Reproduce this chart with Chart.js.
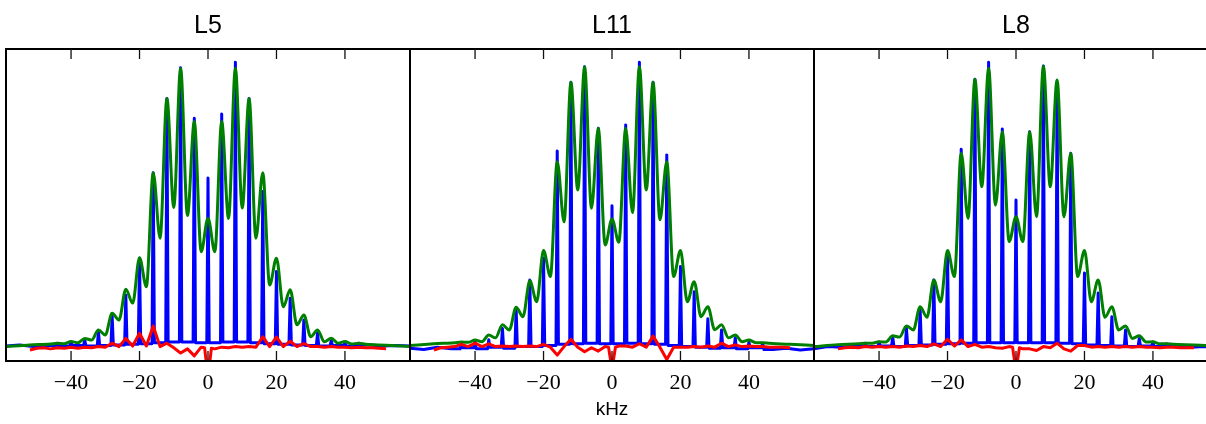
<!DOCTYPE html>
<html><head><meta charset="utf-8">
<script src="https://cdn.jsdelivr.net/npm/chart.js@4/dist/chart.umd.min.js"></script>
<style>
html,body{margin:0;padding:0;width:1206px;height:424px;overflow:hidden;background:#fff;position:relative}
canvas{position:absolute;top:0}
</style></head><body>
<canvas id="c0" width="416" height="424" style="left:0px"></canvas>
<canvas id="c1" width="416" height="424" style="left:404px"></canvas>
<canvas id="c2" width="416" height="424" style="left:808px"></canvas>
<script>
// ---------- data ----------
const panelTitles = ['L5', 'L11', 'L8'];
const xTickValues = [-40, -20, 0, 20, 40];
const axisLabel = 'kHz';

// spinning-sideband positions (kHz)
const peakX = [-44,-40,-36,-32,-28,-24,-20,-16,-12,-8,-4,0,4,8,12,16,20,24,28,32,36,40,44];
// blue baseline points between the sidebands (kHz)
const blueGapX = [-59,-55,-51,-47,-42,-38,-34,-30,-26,-22,-18,-14,-10,-6,-2,2,6,10,14,18,22,26,30,34,38,42,47,51,55,59];
// fit curve sample positions (kHz)
const greenX = [-59,-52,-46,-44,-42,-40,-38,-36,-34,-32,-30,-28,-26,-24,-22,-20,-18,-16,-14,-12,-10,-8,-6,-4,-2,0,2,4,6,8,10,12,14,16,18,20,22,24,26,28,30,32,34,36,38,40,42,44,46,52,59];
// residual sample positions (kHz)
const redX = [-52,-50,-48,-46,-44,-42,-40,-38,-36,-34,-32,-30,-28,-26,-24,-22,-20,-18,-16,-14,-12,-10,-8,-6,-4,-2,-1,0,1,2,4,6,8,10,12,14,16,18,20,22,24,26,28,30,32,34,36,38,40,42,44,46,48,50,52];

// L5
const L5_bluePeaks = [0.008,0.012,0.02,0.049,0.105,0.179,0.309,0.612,0.875,0.984,0.805,0.593,0.82,1.003,0.875,0.545,0.262,0.167,0.09,0.044,0.018,0.01,0.008];
const L5_blueGaps = [-0.002,0.002,-0.004,0.0,-0.002,0.0,-0.002,0.0,0.002,0.004,0.006,0.01,0.012,0.012,0.01,0.01,0.012,0.012,0.01,0.006,0.004,0.002,0.0,-0.002,0.0,-0.002,0.002,-0.002,0.0,-0.002];
const L5_fit = [-0.004,0.002,0.005,0.008,0.006,0.014,0.01,0.025,0.019,0.055,0.037,0.114,0.09,0.199,0.15,0.311,0.208,0.612,0.38,0.875,0.489,0.982,0.46,0.793,0.332,0.451,0.332,0.793,0.45,0.982,0.487,0.875,0.38,0.612,0.214,0.309,0.137,0.197,0.073,0.108,0.031,0.055,0.013,0.026,0.008,0.014,0.005,0.008,0.004,0.001,-0.004];
const L5_resid = [-0.016,-0.01,-0.008,-0.012,-0.008,-0.01,-0.006,-0.01,-0.006,-0.008,-0.004,-0.006,0.008,-0.004,0.025,-0.002,0.043,-0.002,0.069,-0.004,0.008,-0.008,-0.027,-0.012,-0.037,-0.006,
  -0.008,-0.11,-0.01,
  -0.012,-0.006,-0.008,-0.004,-0.006,-0.004,-0.006,0.031,-0.004,0.03,-0.004,0.015,-0.004,0.007,-0.004,-0.004,-0.006,-0.004,-0.006,-0.006,-0.008,-0.006,-0.008,-0.008,-0.01,-0.012];

// L11
const L11_bluePeaks = [0.01,0.015,0.02,0.06,0.13,0.232,0.31,0.689,0.932,0.987,0.769,0.495,0.781,1.003,0.932,0.675,0.28,0.19,0.095,0.055,0.027,0.012,0.008];
const L11_blueGaps = [-0.01,-0.014,-0.006,-0.012,-0.008,-0.012,-0.006,-0.01,-0.004,-0.004,0.0,0.004,0.006,0.008,0.006,0.006,0.008,0.006,0.004,0.0,-0.004,-0.006,-0.01,-0.008,-0.012,-0.008,-0.014,-0.01,-0.016,-0.012];
const L11_fit = [0.0,0.006,0.01,0.012,0.011,0.019,0.013,0.037,0.027,0.073,0.055,0.135,0.102,0.229,0.155,0.336,0.244,0.651,0.438,0.932,0.551,0.987,0.486,0.769,0.356,0.448,0.366,0.769,0.47,0.987,0.551,0.932,0.445,0.651,0.244,0.336,0.155,0.226,0.102,0.137,0.056,0.073,0.027,0.037,0.013,0.019,0.01,0.01,0.008,0.004,0.0];
const L11_resid = [-0.016,-0.008,-0.006,-0.004,0.004,-0.004,0.008,-0.004,0.006,-0.004,-0.002,-0.004,-0.002,-0.004,-0.002,-0.004,0.004,-0.006,-0.034,-0.004,0.022,-0.006,-0.022,-0.008,-0.02,-0.004,
  -0.006,-0.085,-0.006,
  -0.002,-0.002,-0.006,0.006,-0.006,0.033,-0.006,-0.05,-0.006,-0.006,-0.006,-0.004,-0.006,-0.002,-0.006,0.008,-0.004,0.002,-0.004,-0.002,-0.004,-0.004,-0.006,-0.006,-0.006,-0.008];

// L8
const L8_bluePeaks = [0.008,0.012,0.03,0.06,0.13,0.232,0.33,0.695,0.943,1.003,0.767,0.515,0.757,0.99,0.928,0.681,0.257,0.186,0.102,0.055,0.025,0.012,0.006];
const L8_blueGaps = [-0.012,-0.004,-0.006,-0.002,-0.004,-0.002,-0.004,0.0,0.002,0.004,0.006,0.008,0.01,0.01,0.01,0.01,0.01,0.01,0.008,0.006,0.002,0.0,-0.002,-0.004,-0.002,-0.004,-0.002,-0.006,-0.004,-0.006];
const L8_fit = [-0.004,0.003,0.006,0.008,0.008,0.013,0.012,0.034,0.03,0.069,0.055,0.137,0.1,0.232,0.155,0.336,0.244,0.681,0.45,0.943,0.562,0.982,0.497,0.757,0.368,0.456,0.368,0.757,0.456,0.99,0.562,0.94,0.456,0.681,0.244,0.336,0.155,0.232,0.1,0.137,0.055,0.069,0.025,0.034,0.012,0.013,0.006,0.006,0.004,0.002,-0.002];
const L8_resid = [-0.012,-0.008,-0.006,-0.008,-0.004,-0.006,-0.004,-0.006,-0.004,-0.006,-0.002,-0.004,0.0,-0.004,0.006,-0.004,0.022,-0.002,0.02,-0.004,0.004,-0.006,-0.004,-0.008,-0.01,-0.004,
  -0.006,-0.09,-0.008,
  -0.012,-0.012,-0.018,-0.004,-0.008,0.008,-0.012,-0.02,0.0,0.0,-0.006,-0.004,-0.006,-0.004,-0.006,-0.004,-0.006,-0.004,-0.006,-0.006,-0.008,-0.006,-0.006,-0.008,-0.008,-0.008];

const panels = [
  {peaks: L5_bluePeaks,  gaps: L5_blueGaps,  fit: L5_fit,  resid: L5_resid},
  {peaks: L11_bluePeaks, gaps: L11_blueGaps, fit: L11_fit, resid: L11_resid},
  {peaks: L8_bluePeaks,  gaps: L8_blueGaps,  fit: L8_fit,  resid: L8_resid}
];

// ---------- building the datasets ----------
function buildBlue(peaks, gaps) {
  const pts = blueGapX.map((x, k) => ({x, y: gaps[k]}));
  peakX.forEach((p, k) => {
    let li = 0, ri = blueGapX.length - 1;
    blueGapX.forEach((g, j) => { if (g < p) li = j; });
    for (let j = blueGapX.length - 1; j >= 0; j--) if (blueGapX[j] > p) ri = j;
    pts.push({x: p - 0.35, y: gaps[li]}, {x: p, y: peaks[k]}, {x: p + 0.35, y: gaps[ri]});
  });
  pts.sort((a, b) => a.x - b.x);
  return pts;
}
const zip = (xs, ys) => xs.map((x, k) => ({x, y: ys[k]}));
const fmtTick = v => (v < 0 ? '\u2212' + Math.abs(v) : String(v));

const framePlugin = {
  id: 'frame',
  afterDraw(chart) {
    const {ctx, chartArea: a, scales: {x}} = chart;
    ctx.save();
    ctx.strokeStyle = '#000';
    ctx.lineWidth = 2;
    ctx.strokeRect(a.left, a.top, a.right - a.left, a.bottom - a.top);
    ctx.lineWidth = 1.3;
    ctx.strokeStyle = '#111';
    xTickValues.forEach(v => {
      const px = x.getPixelForValue(v);
      ctx.beginPath();
      ctx.moveTo(px, a.top); ctx.lineTo(px, a.top + 10);
      ctx.moveTo(px, a.bottom); ctx.lineTo(px, a.bottom - 10);
      ctx.stroke();
    });
    ctx.restore();
  }
};

panels.forEach((p, i) => {
  new Chart(document.getElementById('c' + i), {
    type: 'line',
    data: {
      datasets: [
        {label: 'spectrum', data: buildBlue(p.peaks, p.gaps), borderColor: '#0000ff', borderWidth: 3,
         pointRadius: 0, tension: 0, borderJoinStyle: 'round', borderCapStyle: 'round', order: 3, clip: 0},
        {label: 'fit', data: zip(greenX, p.fit), borderColor: '#008000', borderWidth: 3,
         pointRadius: 0, cubicInterpolationMode: 'monotone', borderJoinStyle: 'round', order: 2, clip: 0},
        {label: 'residual', data: zip(redX, p.resid), borderColor: '#ff0000', borderWidth: 3,
         pointRadius: 0, tension: 0, borderJoinStyle: 'round', order: 1, clip: 0}
      ]
    },
    options: {
      responsive: false, animation: false, devicePixelRatio: 1,
      events: [],
      layout: {padding: {left: 6, right: 6, top: 0, bottom: 0}},
      plugins: {
        legend: {display: false}, tooltip: {enabled: false},
        title: {display: true, text: panelTitles[i], color: '#000',
                font: {family: 'Liberation Sans', size: 25, weight: 'normal', lineHeight: 1.2},
                padding: {top: 11, bottom: 8}}
      },
      scales: {
        x: {
          type: 'linear', min: -59, max: 59,
          grid: {display: false, drawTicks: false}, border: {display: false},
          afterBuildTicks: s => { s.ticks = xTickValues.map(v => ({value: v})); },
          afterFit: s => { s.height = 63; },
          ticks: {font: {family: 'Liberation Serif', size: 22}, color: '#000', padding: 9,
                  maxRotation: 0, autoSkip: false, callback: v => fmtTick(v)},
          title: i === 1 ? {display: true, text: axisLabel, color: '#000',
                   font: {family: 'Liberation Sans', size: 19, lineHeight: 1.2}, padding: {top: 0, bottom: 3}}
                 : {display: false}
        },
        y: {display: false, min: -0.055, max: 1.05}
      }
    },
    plugins: [framePlugin]
  });
});
</script>
</body></html>
